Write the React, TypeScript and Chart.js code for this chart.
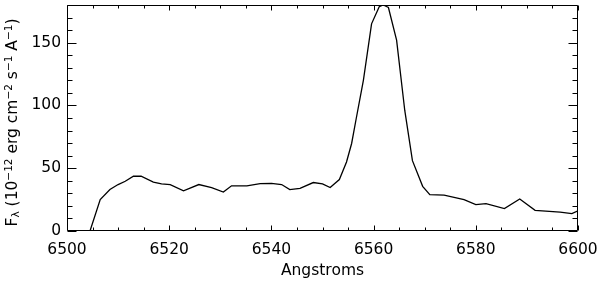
import React, { useEffect, useRef } from "react";
import { Chart, registerables } from "chart.js";

Chart.register(...registerables);

const wavelengths = [
  6503.5, 6504.5, 6506.5, 6508.4, 6510, 6511.4, 6513, 6514.5, 6516.9, 6518.5,
  6520.2, 6522.8, 6525.8, 6528.3, 6530.6, 6532.2, 6535.2, 6537.8, 6540, 6542,
  6543.6, 6545.6, 6548.2, 6550, 6551.5, 6553.3, 6554.7, 6555.7, 6556.6, 6558,
  6559.6, 6561.1, 6561.9, 6562.9, 6564.5, 6566.1, 6567.6, 6569.6, 6571, 6573.8,
  6577.7, 6580, 6582, 6585.6, 6588.6, 6591.6, 6596.5, 6598.8, 6600,
];
const flux = [
  -8, 0, 25, 33, 37, 39.6, 43.6, 43.6, 39, 37.5,
  37, 32, 37, 34.6, 31, 36, 36, 37.8, 38, 37,
  33, 34, 38.6, 37.5, 34.6, 41, 55, 69.7, 89.6, 120,
  165, 178.6, 180, 178, 152, 96, 56, 35.6, 29, 28.5,
  25, 21, 21.8, 17.8, 25.5, 16.5, 15, 13.9, 16,
];
const xTicks = [6500, 6520, 6540, 6560, 6580, 6600];
const yTicks = [0, 50, 100, 150];
const xTitle = "Angstroms";
// [text, kind] kind: n normal, sup superscript, sub subscript
const yTitleParts: [string, string][] = [
  ["F", "n"], ["λ", "sub"], [" (10", "n"], ["−12", "sup"], [" erg cm", "n"],
  ["−2", "sup"], [" s", "n"], ["−1", "sup"], [" A", "n"], ["−1", "sup"], [")", "n"],
];

const FONT = "DejaVu Sans";
const FS = 15.5;

const idlAxes = {
  id: "idlAxes",
  afterDraw(chart: any) {
    const { ctx, chartArea } = chart;
    const { left, right, top, bottom } = chartArea;
    const xs = chart.scales.x;
    const ys = chart.scales.y;
    ctx.save();
    ctx.strokeStyle = "#000";
    ctx.lineWidth = 1;
    const L = Math.round(left) + 0.5;
    const R = Math.round(right) - 0.5;
    const T = Math.round(top) + 0.5;
    const B = Math.round(bottom) - 0.5;
    ctx.beginPath();
    ctx.rect(L, T, R - L, B - T);
    ctx.stroke();
    ctx.beginPath();
    for (let v = xs.min; v <= xs.max + 1e-6; v += 5) {
      const px = Math.round(xs.getPixelForValue(v)) + 0.5;
      const len = Math.abs(v % 20) < 1e-6 ? 5 : 3;
      ctx.moveTo(px, B);
      ctx.lineTo(px, B - len);
      ctx.moveTo(px, T);
      ctx.lineTo(px, T + len);
    }
    for (let v = ys.min; v <= ys.max + 1e-6; v += 10) {
      const py = Math.round(ys.getPixelForValue(v)) + 0.5;
      const len = Math.abs(v % 50) < 1e-6 ? 9 : 5;
      ctx.moveTo(L, py);
      ctx.lineTo(L + len, py);
      ctx.moveTo(R, py);
      ctx.lineTo(R - len, py);
    }
    ctx.stroke();

    // y-axis title with sub/superscripts
    const small = 10.5;
    const widths = yTitleParts.map(([t, k]) => {
      ctx.font = `${k === "n" ? FS : small}px "${FONT}"`;
      return ctx.measureText(t).width;
    });
    const total = widths.reduce((a, b) => a + b, 0);
    const cy = 122.5;
    ctx.translate(17, cy);
    ctx.rotate(-Math.PI / 2);
    ctx.fillStyle = "#000";
    ctx.textBaseline = "alphabetic";
    let x = -total / 2;
    yTitleParts.forEach(([t, k], i) => {
      ctx.font = `${k === "n" ? FS : small}px "${FONT}"`;
      const dy = k === "sup" ? -5 : k === "sub" ? 1.5 : 0;
      ctx.fillText(t, x, dy);
      x += widths[i];
    });
    ctx.restore();
  },
};

export default function App() {
  const ref = useRef<HTMLCanvasElement>(null);
  useEffect(() => {
    const points = wavelengths.map((w, i) => ({ x: w, y: flux[i] }));
    const chart = new Chart(ref.current!, {
      type: "line",
      data: {
        datasets: [
          {
            data: points,
            borderColor: "#000",
            borderWidth: 1.3,
            pointRadius: 0,
            tension: 0,
            fill: false,
          },
        ],
      },
      options: {
        animation: false,
        responsive: false,
        events: [],
        layout: { padding: { top: 5, right: 22, left: 0, bottom: 0 } },
        plugins: { legend: { display: false }, tooltip: { enabled: false } },
        scales: {
          x: {
            type: "linear",
            min: 6500,
            max: 6600,
            grid: { display: false, drawTicks: false },
            border: { display: false },
            afterBuildTicks: (s: any) => {
              s.ticks = xTicks.map((v) => ({ value: v }));
            },
            afterFit: (s: any) => {
              s.height = 51;
              s.paddingLeft = 0;
              s.paddingRight = 0;
            },
            ticks: {
              color: "#000",
              padding: 10,
              maxRotation: 0,
              font: { family: FONT, size: FS },
              callback: (v: any) => String(v),
            },
            title: {
              display: true,
              text: xTitle,
              color: "#000",
              padding: { top: 0, bottom: 2 },
              font: { family: FONT, size: FS },
            },
          },
          y: {
            type: "linear",
            min: 0,
            max: 180,
            grid: { display: false, drawTicks: false },
            border: { display: false },
            afterBuildTicks: (s: any) => {
              s.ticks = yTicks.map((v) => ({ value: v }));
            },
            afterFit: (s: any) => {
              s.width = 67;
              s.paddingTop = 0;
              s.paddingBottom = 0;
            },
            ticks: {
              color: "#000",
              padding: 6,
              font: { family: FONT, size: FS },
              callback: (v: any) => String(v),
            },
          },
        },
      },
      plugins: [idlAxes],
    } as any);
    return () => chart.destroy();
  }, []);
  return (
    <div style={{ position: "fixed", left: 0, top: 0, width: 600, height: 282, background: "#fff" }}>
      <canvas ref={ref} width={600} height={282} />
    </div>
  );
}
